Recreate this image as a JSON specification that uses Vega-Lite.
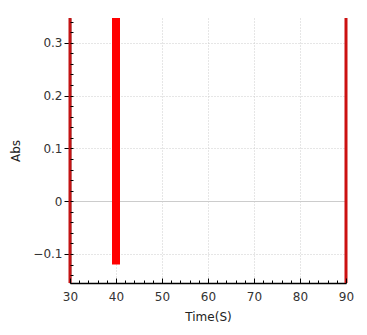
{
  "$schema": "https://vega.github.io/schema/vega-lite/v6.json",
  "autosize": "none",
  "padding": {"left": 70, "top": 18, "right": 21, "bottom": 52},
  "width": 276,
  "height": 265,
  "background": "white",
  "config": {"view": {"stroke": null}, "font": "DejaVu Sans"},
  "data": {"values": [
    {"t": 30, "lo": -0.155, "hi": 0.347, "series": "A"},
    {"t": 40, "lo": -0.12, "hi": 0.347, "series": "B"},
    {"t": 90, "lo": -0.155, "hi": 0.347, "series": "C"}
  ]},
  "encoding": {
    "x": {"field": "t", "type": "quantitative", "scale": {"domain": [30, 90], "nice": false, "zero": false}, "axis": null},
    "y": {"field": "lo", "type": "quantitative", "scale": {"domain": [-0.155, 0.347], "nice": false, "zero": false}, "axis": null},
    "y2": {"field": "hi"}
  },
  "layer": [
    {
      "mark": {"type": "rule", "opacity": 0},
      "encoding": {
        "x": {"field": "t", "type": "quantitative", "scale": {"domain": [30, 90], "nice": false, "zero": false},
          "axis": {"title": "Time(S)", "values": [30, 40, 50, 60, 70, 80, 90], "ticks": false, "labelPadding": 8, "labelFlush": false,
            "labelFontSize": 12, "labelColor": "#333", "titleFontSize": 12, "titleFontWeight": "normal", "titleColor": "#222", "titlePadding": 9,
            "domainColor": "#000", "domainWidth": 1.5,
            "grid": true, "gridDash": [1, 2], "gridColor": "#cccccc", "gridOpacity": {"condition": {"test": "datum.value === 30 || datum.value === 90", "value": 0}, "value": 1}}},
        "y": {"field": "lo", "type": "quantitative", "scale": {"domain": [-0.155, 0.347], "nice": false, "zero": false},
          "axis": {"title": "Abs", "values": [-0.1, 0, 0.1, 0.2, 0.3], "tickSize": 6, "tickColor": "#000", "labelPadding": 2, "labelFlush": false,
            "labelFontSize": 12, "labelColor": "#333", "titleFontSize": 12, "titleFontWeight": "normal", "titleColor": "#222", "titlePadding": 10,
            "labelExpr": "datum.value === 0 ? '0' : format(datum.value, '.1f')",
            "domainColor": "#000", "domainWidth": 1.5,
            "grid": true, "gridColor": "#cccccc",
            "gridDash": {"condition": {"test": "datum.value === 0", "value": []}, "value": [1, 2]}}}
      }
    },
    {
      "transform": [{"filter": "datum.series === 'A'"}],
      "mark": {"type": "rule", "color": "#c41414", "strokeWidth": 3}
    },
    {
      "transform": [{"filter": "datum.series === 'B'"}],
      "mark": {"type": "rule", "color": "#ff0000", "strokeWidth": 8}
    },
    {
      "transform": [{"filter": "datum.series === 'C'"}],
      "mark": {"type": "rule", "color": "#cc1111", "strokeWidth": 3}
    },
    {
      "mark": {"type": "rule", "opacity": 0},
      "encoding": {
        "x": {"field": "t", "type": "quantitative", "scale": {"domain": [30, 90], "nice": false, "zero": false},
          "axis": {"orient": "bottom", "title": null, "labels": false, "grid": false, "domain": false, "zindex": 2,
            "values": [30,32,34,36,38,40,42,44,46,48,50,52,54,56,58,60,62,64,66,68,70,72,74,76,78,80,82,84,86,88,90],
            "tickColor": "#000", "tickSize": {"condition": {"test": "datum.value % 10 === 0", "value": -5}, "value": -3}}},
        "y": {"field": "lo", "type": "quantitative", "scale": {"domain": [-0.155, 0.347], "nice": false, "zero": false},
          "axis": {"orient": "left", "title": null, "labels": false, "grid": false, "domain": false, "zindex": 2,
            "values": [-0.14,-0.12,-0.1,-0.08,-0.06,-0.04,-0.02,0,0.02,0.04,0.06,0.08,0.1,0.12,0.14,0.16,0.18,0.2,0.22,0.24,0.26,0.28,0.3,0.32,0.34],
            "tickColor": "#000", "tickSize": -3}}
      }
    }
  ],
  "resolve": {"axis": {"x": "independent", "y": "independent"}}
}
